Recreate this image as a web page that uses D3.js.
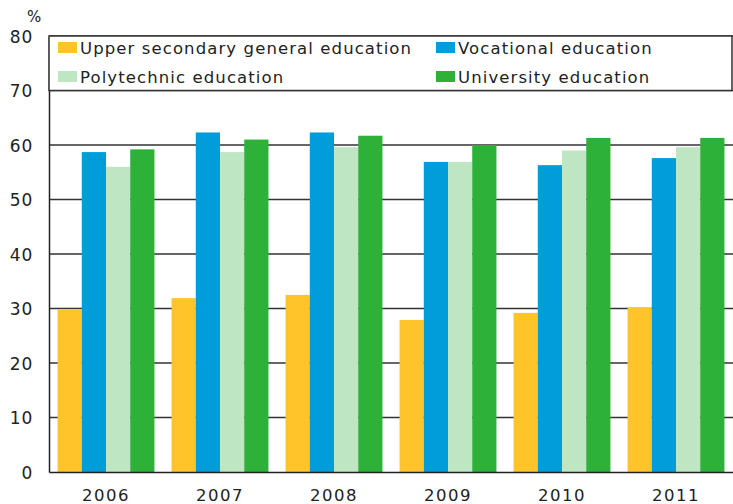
<!DOCTYPE html>
<html>
<head>
<meta charset="utf-8">
<script src="https://cdn.jsdelivr.net/npm/d3@7"></script>
<style>
  body { margin: 0; background: #fff; }
  text { font-family: "DejaVu Sans", sans-serif; fill: #222; }
</style>
</head>
<body>
<svg width="733" height="504"></svg>
<script>
// Data
var years = ["2006", "2007", "2008", "2009", "2010", "2011"];
var seriesNames = ["Upper secondary general education", "Vocational education", "Polytechnic education", "University education"];
var upperSecondary = [29.8, 31.9, 32.5, 27.9, 29.2, 30.1];
var vocational = [58.7, 62.3, 62.3, 56.9, 56.3, 57.6];
var polytechnic = [56.0, 58.7, 59.6, 56.9, 59.0, 59.6];
var university = [59.2, 61.0, 61.7, 60.0, 61.3, 61.3];
var yTicks = [0, 10, 20, 30, 40, 50, 60, 70, 80];
var colors = ["#FFC42A", "#009DDB", "#BEE6C3", "#2DB139"];

var allSeries = [upperSecondary, vocational, polytechnic, university];

var svg = d3.select("svg");
var margin = {top: 36, left: 49, bottom: 32, right: 0};
var width = 733 - margin.left - margin.right;
var height = 504 - margin.top - margin.bottom;

var xScale = d3.scaleBand().domain(years).range([0, width])
    .paddingInner(0.15).paddingOuter(0.075);
var xInner = d3.scaleBand().domain(d3.range(4)).range([0, xScale.bandwidth()]);
var yScale = d3.scaleLinear().domain([0, 80]).range([height, 0]);

var g = svg.append("g").attr("transform", "translate(" + [margin.left, margin.top] + ")");

// Gridlines
g.selectAll(".grid").data(yTicks.slice(1)).enter()
    .append("line")
    .attr("x1", 0).attr("x2", width)
    .attr("y1", function(d) { return yScale(d); })
    .attr("y2", function(d) { return yScale(d); })
    .attr("stroke", "#333").attr("stroke-width", 1.5);

// Bars
var groups = g.selectAll(".year").data(years).enter()
    .append("g")
    .attr("transform", function(d) { return "translate(" + xScale(d) + ",0)"; });

groups.selectAll("rect")
    .data(function(d, i) { return allSeries.map(function(s, k) { return {k: k, v: s[i]}; }); })
    .enter()
    .append("rect")
    .attr("x", function(d) { return xInner(d.k); })
    .attr("width", xInner.bandwidth())
    .attr("y", function(d) { return yScale(d.v); })
    .attr("height", function(d) { return height - yScale(d.v); })
    .attr("fill", function(d) { return colors[d.k]; });

// Axes
var yAxis = g.append("g").call(d3.axisLeft(yScale).tickValues(yTicks).tickSize(0).tickPadding(16));
yAxis.select(".domain").attr("stroke", "#222").attr("stroke-width", 1.5);
yAxis.selectAll("text").style("font-size", "17px").style("letter-spacing", "0.8px").attr("dy", "0.36em");

var xAxis = g.append("g").attr("transform", "translate(0," + height + ")")
    .call(d3.axisBottom(xScale).tickSize(0).tickPadding(17));
xAxis.select(".domain").attr("stroke", "#222").attr("stroke-width", 1.5);
xAxis.selectAll("text").style("font-size", "16.5px").style("letter-spacing", "1.5px");

svg.append("text").attr("x", 27).attr("y", 22).style("font-size", "15px").text("%");

// Legend box between 80 and 70 gridlines
var legend = g.append("g");
legend.append("rect")
    .attr("x", 0).attr("y", yScale(80))
    .attr("width", width - 1).attr("height", yScale(70) - yScale(80))
    .attr("fill", "#fff").attr("stroke", "#333").attr("stroke-width", 1.5);

var legendPos = [[9, 12], [387, 12], [9, 41], [387, 41]];
[0, 1, 2, 3].forEach(function(k) {
    var p = legendPos[k];
    legend.append("rect").attr("x", p[0]).attr("y", p[1] - 6)
        .attr("width", 19).attr("height", 11).attr("fill", colors[k]);
    legend.append("text").attr("x", p[0] + 22).attr("y", p[1] + 6)
        .style("font-size", "16.5px").style("letter-spacing", "1.1px").text(seriesNames[k]);
});
</script>
</body>
</html>
